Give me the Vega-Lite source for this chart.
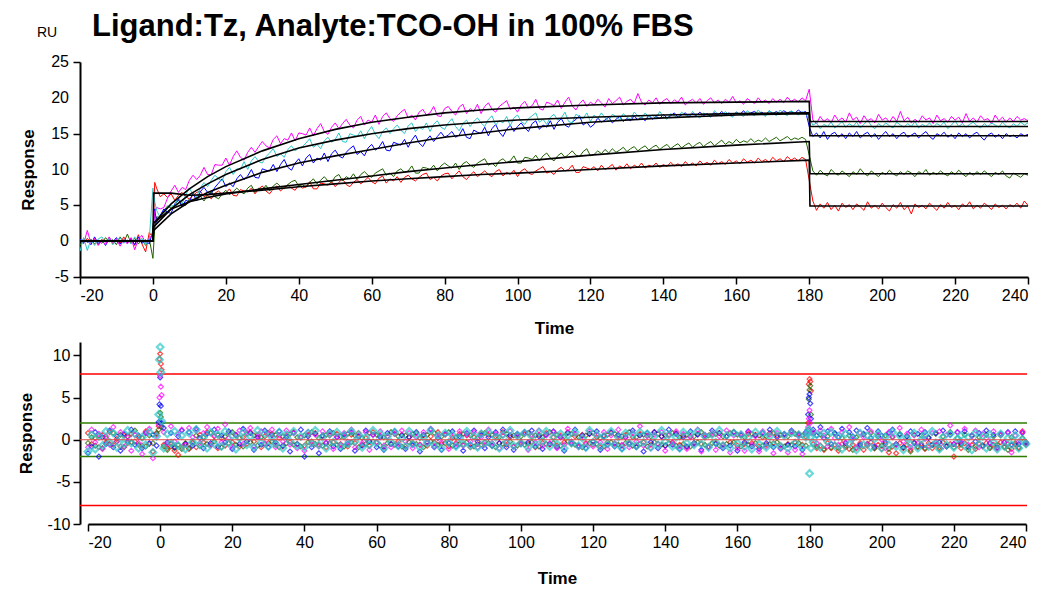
{
"$schema": "https://vega.github.io/schema/vega-lite/v6.json",
"background": "white",
"padding": {"left": 17, "top": 11, "right": 5, "bottom": 2},
"spacing": 3,
"columns": 1,
"align": "none",
"config": {"view": {"stroke": null}, "font": "Liberation Sans",
 "axis": {"grid": false, "labelOverlap": false, "domainColor": "black", "domainWidth": 2, "tickColor": "black", "tickWidth": 1.5, "labelColor": "black", "labelFont": "Liberation Sans", "labelFontSize": 16, "titleFont": "Liberation Sans", "titleFontSize": 17, "titleFontWeight": "bold", "titleColor": "black", "labelPadding": 3}},
"datasets": {
"sg": [
{"t":-20,"m":0.2,"c":-1.4,"b":0.3,"g":-0.6,"r":0.1},
{"t":-19,"m":-0.4,"c":0.5,"b":-0.2,"g":0.4,"r":-0.3},
{"t":-18,"m":1.5,"c":-1.3,"b":0.1,"g":-0.2,"r":0.4},
{"t":-17,"m":-0.3,"c":0.2,"b":-0.5,"g":0.3,"r":-0.2},
{"t":-16,"m":0.4,"c":-0.6,"b":0.6,"g":-0.4,"r":0.3},
{"t":-15,"m":-0.6,"c":0.3,"b":-0.3,"g":0.1,"r":-0.5},
{"t":-14,"m":0.1,"c":0.6,"b":0.2,"g":-0.3,"r":0.2},
{"t":-13,"m":-0.5,"c":-0.2,"b":-0.6,"g":0.5,"r":-0.1},
{"t":-12,"m":0.6,"c":0.4,"b":0.3,"g":-0.1,"r":0.5},
{"t":-11,"m":-0.2,"c":-0.5,"b":-0.1,"g":0.2,"r":-0.4},
{"t":-10,"m":0.3,"c":0.1,"b":0.5,"g":-0.5,"r":0.2},
{"t":-9,"m":-0.7,"c":0.5,"b":-0.4,"g":0.6,"r":-0.3},
{"t":-8,"m":0.2,"c":-0.3,"b":0.2,"g":-0.2,"r":0.6},
{"t":-7,"m":-0.4,"c":0.2,"b":-0.2,"g":1.0,"r":-0.2},
{"t":-6,"m":0.5,"c":-0.4,"b":0.4,"g":-0.3,"r":0.3},
{"t":-5,"m":-1.2,"c":0.6,"b":-0.5,"g":0.4,"r":-0.6},
{"t":-4,"m":0.3,"c":-0.1,"b":0.6,"g":-0.4,"r":0.9},
{"t":-3,"m":0.8,"c":0.4,"b":-0.3,"g":0.2,"r":-0.4},
{"t":-2,"m":-0.3,"c":-0.5,"b":0.2,"g":-0.6,"r":-1.5},
{"t":-1,"m":0.4,"c":0.3,"b":-0.4,"g":0.3,"r":1.2},
{"t":0,"m":1.0,"c":7.4,"b":1.5,"g":-2.4,"r":0.5},
{"t":0.5,"m":4.2,"c":5.5,"b":4.5,"g":1.8,"r":8.2},
{"t":1,"m":4.7,"c":4.3,"b":2.6,"g":3.4,"r":7.4},
{"t":2,"m":4.5,"c":3.3,"b":3.6,"g":3.3,"r":6.2},
{"t":3,"m":4.7,"c":3.4,"b":4.5,"g":4.3,"r":6.6},
{"t":4,"m":6.0,"c":4.9,"b":4.0,"g":4.9,"r":6.1},
{"t":5,"m":7.0,"c":4.9,"b":3.9,"g":4.6,"r":6.6},
{"t":6,"m":7.8,"c":5.0,"b":5.2,"g":5.0,"r":5.7},
{"t":7,"m":6.8,"c":6.1,"b":5.8,"g":5.8,"r":6.4},
{"t":8,"m":7.5,"c":5.2,"b":4.8,"g":4.9,"r":6.8},
{"t":9,"m":7.2,"c":6.5,"b":5.7,"g":5.0,"r":6.2},
{"t":10,"m":8.5,"c":7.4,"b":5.5,"g":5.9,"r":5.9},
{"t":11,"m":9.2,"c":6.5,"b":6.7,"g":5.8,"r":6.4},
{"t":12,"m":8.6,"c":6.2,"b":5.6,"g":5.7,"r":6.8},
{"t":13,"m":9.2,"c":7.4,"b":6.9,"g":6.3,"r":7.0},
{"t":14,"m":10.3,"c":8.2,"b":7.5,"g":5.6,"r":6.2},
{"t":15,"m":9.3,"c":7.6,"b":6.8,"g":6.4,"r":6.4},
{"t":16,"m":9.3,"c":8.5,"b":6.6,"g":6.9,"r":5.9},
{"t":17,"m":10.7,"c":9.2,"b":7.5,"g":6.2,"r":6.7},
{"t":18,"m":10.6,"c":8.7,"b":8.1,"g":5.9,"r":7.0},
{"t":19,"m":10.6,"c":8.4,"b":8.7,"g":6.6,"r":6.5},
{"t":20,"m":11.6,"c":9.7,"b":7.6,"g":7.1,"r":6.7},
{"t":21,"m":10.6,"c":10.3,"b":8.1,"g":6.5,"r":7.3},
{"t":22,"m":11.8,"c":9.3,"b":7.6,"g":6.9,"r":6.4},
{"t":23,"m":12.6,"c":10.1,"b":8.7,"g":7.4,"r":6.3},
{"t":24,"m":11.7,"c":10.0,"b":9.3,"g":6.9,"r":7.2},
{"t":25,"m":11.3,"c":11.1,"b":8.6,"g":6.6,"r":7.0},
{"t":26,"m":12.4,"c":10.0,"b":9.1,"g":7.4,"r":6.9},
{"t":27,"m":13.1,"c":11.2,"b":10.0,"g":7.8,"r":7.4},
{"t":28,"m":12.4,"c":11.8,"b":8.9,"g":6.8,"r":6.6},
{"t":29,"m":13.2,"c":11.1,"b":8.8,"g":7.4,"r":7.3},
{"t":30,"m":13.9,"c":10.9,"b":10.1,"g":7.1,"r":7.7},
{"t":31,"m":13.3,"c":11.8,"b":9.9,"g":7.8,"r":7.0},
{"t":32,"m":13.0,"c":12.3,"b":9.8,"g":7.0,"r":6.6},
{"t":33,"m":14.2,"c":12.9,"b":10.7,"g":7.7,"r":7.3},
{"t":34,"m":14.7,"c":11.8,"b":9.7,"g":8.1,"r":7.7},
{"t":35,"m":13.6,"c":12.2,"b":10.7,"g":7.6,"r":7.0},
{"t":36,"m":14.3,"c":11.7,"b":11.4,"g":7.3,"r":7.5},
{"t":37,"m":14.1,"c":12.8,"b":10.3,"g":7.9,"r":7.9},
{"t":38,"m":15.1,"c":13.3,"b":9.9,"g":8.3,"r":7.4},
{"t":39,"m":14.0,"c":12.6,"b":10.9,"g":8.5,"r":7.1},
{"t":40,"m":15.1,"c":13.0,"b":11.5,"g":7.7,"r":7.9},
{"t":41,"m":15.0,"c":13.2,"b":10.5,"g":7.9,"r":7.4},
{"t":42,"m":14.8,"c":13.7,"b":11.6,"g":7.5,"r":7.6},
{"t":43,"m":15.8,"c":14.3,"b":12.1,"g":8.2,"r":8.3},
{"t":44,"m":14.7,"c":13.1,"b":10.9,"g":8.7,"r":7.3},
{"t":45,"m":15.7,"c":13.5,"b":11.6,"g":8.0,"r":7.3},
{"t":46,"m":16.4,"c":12.9,"b":11.3,"g":8.5,"r":8.1},
{"t":47,"m":15.3,"c":14.0,"b":12.3,"g":9.0,"r":8.0},
{"t":48,"m":14.9,"c":14.5,"b":11.1,"g":8.4,"r":7.8},
{"t":49,"m":15.9,"c":13.8,"b":12.2,"g":8.2,"r":8.3},
{"t":50,"m":16.5,"c":14.2,"b":12.7,"g":9.0,"r":7.6},
{"t":51,"m":15.7,"c":15.1,"b":11.9,"g":9.3,"r":8.2},
{"t":52,"m":16.4,"c":13.9,"b":11.6,"g":8.4,"r":8.7},
{"t":53,"m":17.0,"c":13.8,"b":12.4,"g":9.0,"r":7.9},
{"t":54,"m":16.2,"c":15.0,"b":12.9,"g":8.7,"r":7.6},
{"t":55,"m":15.8,"c":14.8,"b":13.3,"g":9.4,"r":8.2},
{"t":56,"m":16.9,"c":14.6,"b":12.1,"g":8.6,"r":8.6},
{"t":57,"m":17.4,"c":15.4,"b":12.5,"g":9.3,"r":8.0},
{"t":58,"m":16.2,"c":14.3,"b":11.9,"g":9.7,"r":8.4},
{"t":59,"m":16.9,"c":15.3,"b":13.0,"g":9.2,"r":8.9},
{"t":60,"m":16.6,"c":16.0,"b":13.5,"g":8.9,"r":8.3},
{"t":61,"m":17.6,"c":14.9,"b":12.7,"g":9.5,"r":8.0},
{"t":62,"m":16.3,"c":14.3,"b":13.1,"g":9.8,"r":8.8},
{"t":63,"m":17.4,"c":15.3,"b":13.9,"g":10.1,"r":9.1},
{"t":64,"m":17.9,"c":15.8,"b":12.7,"g":9.2,"r":8.1},
{"t":65,"m":17.1,"c":15.0,"b":12.6,"g":9.5,"r":8.7},
{"t":66,"m":16.7,"c":15.7,"b":13.8,"g":9.0,"r":8.4},
{"t":67,"m":17.5,"c":16.2,"b":13.6,"g":9.8,"r":9.0},
{"t":68,"m":18.0,"c":15.5,"b":13.4,"g":10.1,"r":8.2},
{"t":69,"m":18.4,"c":15.0,"b":14.2,"g":9.6,"r":8.9},
{"t":70,"m":17.2,"c":16.1,"b":13.1,"g":9.8,"r":9.2},
{"t":71,"m":17.6,"c":16.5,"b":14.1,"g":10.5,"r":8.7},
{"t":72,"m":16.9,"c":15.3,"b":14.8,"g":9.5,"r":8.4},
{"t":73,"m":18.0,"c":15.9,"b":13.7,"g":9.5,"r":8.9},
{"t":74,"m":18.4,"c":15.6,"b":13.2,"g":10.3,"r":9.3},
{"t":75,"m":17.6,"c":16.5,"b":14.1,"g":10.2,"r":9.5},
{"t":76,"m":17.9,"c":15.3,"b":14.7,"g":10.0,"r":8.6},
{"t":77,"m":18.8,"c":16.3,"b":13.9,"g":10.6,"r":8.9},
{"t":78,"m":17.5,"c":16.8,"b":14.6,"g":9.8,"r":8.4},
{"t":79,"m":17.4,"c":15.9,"b":15.2,"g":10.5,"r":9.1},
{"t":80,"m":18.5,"c":15.6,"b":14.5,"g":10.9,"r":9.4},
{"t":81,"m":18.8,"c":16.5,"b":14.8,"g":10.5,"r":9.5},
{"t":82,"m":18.1,"c":17.1,"b":15.3,"g":10.2,"r":8.7},
{"t":83,"m":17.6,"c":16.0,"b":14.5,"g":10.9,"r":9.3},
{"t":84,"m":18.7,"c":15.4,"b":14.8,"g":10.0,"r":9.8},
{"t":85,"m":19.1,"c":16.4,"b":15.7,"g":10.8,"r":9.0},
{"t":86,"m":17.8,"c":16.9,"b":14.5,"g":11.1,"r":8.6},
{"t":87,"m":18.5,"c":16.0,"b":14.3,"g":10.6,"r":9.2},
{"t":88,"m":18.1,"c":16.7,"b":15.5,"g":10.3,"r":9.7},
{"t":89,"m":19.1,"c":17.2,"b":15.2,"g":10.9,"r":9.0},
{"t":90,"m":17.8,"c":16.5,"b":15.0,"g":11.2,"r":9.4},
{"t":91,"m":18.8,"c":16.0,"b":15.9,"g":11.5,"r":9.8},
{"t":92,"m":19.3,"c":17.0,"b":14.7,"g":10.6,"r":9.3},
{"t":93,"m":18.4,"c":17.5,"b":15.7,"g":10.9,"r":9.0},
{"t":94,"m":18.0,"c":16.2,"b":16.3,"g":10.4,"r":9.7},
{"t":95,"m":18.8,"c":16.8,"b":15.2,"g":11.2,"r":10.0},
{"t":96,"m":19.2,"c":16.5,"b":14.6,"g":11.5,"r":9.1},
{"t":97,"m":19.6,"c":17.4,"b":15.6,"g":11.0,"r":9.6},
{"t":98,"m":18.4,"c":16.1,"b":16.2,"g":11.2,"r":9.3},
{"t":99,"m":18.7,"c":17.2,"b":15.3,"g":11.9,"r":9.9},
{"t":100,"m":18.0,"c":17.6,"b":16.0,"g":10.9,"r":9.0},
{"t":101,"m":19.0,"c":16.7,"b":16.5,"g":10.9,"r":9.8},
{"t":102,"m":19.5,"c":16.3,"b":15.8,"g":11.7,"r":10.1},
{"t":103,"m":18.6,"c":17.1,"b":15.3,"g":11.6,"r":9.5},
{"t":104,"m":18.9,"c":17.5,"b":16.4,"g":11.4,"r":9.3},
{"t":105,"m":19.8,"c":17.9,"b":16.8,"g":12.0,"r":9.8},
{"t":106,"m":18.5,"c":16.6,"b":15.6,"g":11.2,"r":10.1},
{"t":107,"m":18.3,"c":17.0,"b":16.2,"g":11.9,"r":10.4},
{"t":108,"m":19.4,"c":16.3,"b":15.9,"g":12.3,"r":9.5},
{"t":109,"m":19.2,"c":17.3,"b":16.8,"g":11.6,"r":9.7},
{"t":110,"m":18.9,"c":17.7,"b":15.6,"g":11.2,"r":9.3},
{"t":111,"m":19.7,"c":16.9,"b":16.6,"g":11.9,"r":10.0},
{"t":112,"m":18.5,"c":17.2,"b":17.1,"g":12.3,"r":10.3},
{"t":113,"m":19.4,"c":18.0,"b":16.2,"g":11.7,"r":9.8},
{"t":114,"m":20.1,"c":16.7,"b":15.9,"g":12.1,"r":10.0},
{"t":115,"m":18.9,"c":16.5,"b":16.6,"g":12.6,"r":10.6},
{"t":116,"m":18.3,"c":17.7,"b":17.0,"g":12.0,"r":9.6},
{"t":117,"m":19.2,"c":17.4,"b":17.5,"g":11.8,"r":9.6},
{"t":118,"m":19.7,"c":17.1,"b":16.2,"g":12.5,"r":10.4},
{"t":119,"m":18.8,"c":17.9,"b":16.6,"g":12.9,"r":10.2},
{"t":120,"m":19.4,"c":16.7,"b":15.9,"g":11.9,"r":10.0},
{"t":121,"m":19.0,"c":17.6,"b":16.3,"g":12.1,"r":10.4},
{"t":122,"m":19.8,"c":17.1,"b":17.2,"g":12.6,"r":9.8},
{"t":123,"m":19.3,"c":17.9,"b":16.6,"g":12.2,"r":10.6},
{"t":124,"m":18.7,"c":17.2,"b":16.9,"g":12.8,"r":10.0},
{"t":125,"m":19.9,"c":16.8,"b":17.3,"g":12.3,"r":10.3},
{"t":126,"m":19.2,"c":17.7,"b":16.5,"g":12.9,"r":10.7},
{"t":127,"m":19.6,"c":17.4,"b":17.0,"g":12.4,"r":9.9},
{"t":128,"m":20.1,"c":16.9,"b":17.4,"g":12.7,"r":10.5},
{"t":129,"m":19.0,"c":17.8,"b":16.7,"g":13.1,"r":10.2},
{"t":130,"m":19.5,"c":17.3,"b":17.1,"g":12.5,"r":10.8},
{"t":131,"m":19.8,"c":17.0,"b":16.8,"g":12.9,"r":10.1},
{"t":132,"m":19.2,"c":18.0,"b":17.5,"g":13.2,"r":10.6},
{"t":133,"m":20.6,"c":17.5,"b":16.9,"g":12.6,"r":10.3},
{"t":134,"m":19.4,"c":17.1,"b":17.3,"g":13.0,"r":10.9},
{"t":135,"m":19.0,"c":17.9,"b":16.8,"g":13.3,"r":10.2},
{"t":136,"m":19.7,"c":17.3,"b":17.6,"g":12.7,"r":10.6},
{"t":137,"m":19.3,"c":17.6,"b":17.0,"g":13.1,"r":10.4},
{"t":138,"m":20.0,"c":17.1,"b":17.4,"g":13.4,"r":10.9},
{"t":139,"m":19.1,"c":18.1,"b":17.1,"g":12.8,"r":10.3},
{"t":140,"m":19.6,"c":17.4,"b":17.7,"g":13.2,"r":10.7},
{"t":141,"m":19.9,"c":17.0,"b":17.2,"g":13.5,"r":10.4},
{"t":142,"m":19.2,"c":17.8,"b":17.5,"g":12.9,"r":11.0},
{"t":143,"m":19.7,"c":17.5,"b":17.9,"g":13.3,"r":10.5},
{"t":144,"m":19.4,"c":17.2,"b":17.3,"g":13.6,"r":10.8},
{"t":145,"m":20.1,"c":18.0,"b":17.6,"g":13.0,"r":10.4},
{"t":146,"m":19.0,"c":17.6,"b":17.9,"g":13.4,"r":11.1},
{"t":147,"m":19.5,"c":17.3,"b":17.4,"g":13.7,"r":10.6},
{"t":148,"m":19.8,"c":18.1,"b":17.8,"g":13.1,"r":10.9},
{"t":149,"m":19.3,"c":17.5,"b":17.5,"g":13.5,"r":10.5},
{"t":150,"m":19.9,"c":17.2,"b":18.0,"g":13.8,"r":11.2},
{"t":151,"m":19.1,"c":17.9,"b":17.5,"g":13.2,"r":10.7},
{"t":152,"m":19.6,"c":17.6,"b":17.8,"g":13.6,"r":11.0},
{"t":153,"m":20.0,"c":17.3,"b":17.4,"g":13.9,"r":10.6},
{"t":154,"m":19.3,"c":18.2,"b":17.9,"g":13.3,"r":11.3},
{"t":155,"m":19.7,"c":17.7,"b":17.6,"g":13.7,"r":10.8},
{"t":156,"m":19.2,"c":17.4,"b":18.1,"g":14.1,"r":11.1},
{"t":157,"m":19.8,"c":18.1,"b":17.6,"g":13.5,"r":10.7},
{"t":158,"m":19.4,"c":17.6,"b":17.9,"g":13.9,"r":11.4},
{"t":159,"m":20.2,"c":17.3,"b":17.5,"g":13.6,"r":10.9},
{"t":160,"m":19.3,"c":18.0,"b":18.0,"g":14.2,"r":11.2},
{"t":161,"m":19.6,"c":17.7,"b":17.7,"g":13.7,"r":10.8},
{"t":162,"m":19.1,"c":17.4,"b":18.2,"g":14.0,"r":11.5},
{"t":163,"m":19.9,"c":18.2,"b":17.6,"g":13.8,"r":11.0},
{"t":164,"m":19.5,"c":17.8,"b":17.9,"g":14.3,"r":11.3},
{"t":165,"m":19.2,"c":17.5,"b":18.1,"g":13.8,"r":10.9},
{"t":166,"m":20.0,"c":18.3,"b":17.7,"g":14.1,"r":11.6},
{"t":167,"m":19.4,"c":17.8,"b":18.0,"g":13.9,"r":11.1},
{"t":168,"m":19.7,"c":17.4,"b":17.6,"g":14.4,"r":11.4},
{"t":169,"m":19.2,"c":18.2,"b":18.2,"g":13.9,"r":11.0},
{"t":170,"m":19.9,"c":17.9,"b":17.8,"g":14.2,"r":11.7},
{"t":171,"m":19.4,"c":17.5,"b":18.1,"g":14.5,"r":11.2},
{"t":172,"m":19.8,"c":18.3,"b":17.7,"g":14.0,"r":11.5},
{"t":173,"m":19.3,"c":17.8,"b":18.2,"g":14.3,"r":11.1},
{"t":174,"m":20.1,"c":17.5,"b":17.9,"g":14.6,"r":11.8},
{"t":175,"m":19.5,"c":18.2,"b":18.1,"g":14.1,"r":11.3},
{"t":176,"m":19.8,"c":17.9,"b":17.8,"g":14.4,"r":11.6},
{"t":177,"m":19.4,"c":17.6,"b":18.3,"g":14.2,"r":11.2},
{"t":178,"m":20.0,"c":18.1,"b":17.9,"g":14.5,"r":11.7},
{"t":179,"m":19.6,"c":17.7,"b":18.1,"g":14.2,"r":11.4},
{"t":180,"m":21.2,"c":17.2,"b":16.0,"g":12.0,"r":8.5},
{"t":181,"m":16.9,"c":16.2,"b":14.6,"g":9.8,"r":5.6},
{"t":182,"m":16.4,"c":16.5,"b":15.1,"g":9.2,"r":4.3},
{"t":183,"m":17.4,"c":15.7,"b":14.4,"g":9.9,"r":5.2},
{"t":184,"m":16.7,"c":16.3,"b":15.3,"g":9.4,"r":4.6},
{"t":185,"m":17.1,"c":16.0,"b":14.2,"g":9.1,"r":5.4},
{"t":186,"m":16.5,"c":16.6,"b":14.9,"g":10.0,"r":4.4},
{"t":187,"m":17.6,"c":15.8,"b":15.2,"g":9.5,"r":5.0},
{"t":188,"m":16.8,"c":16.2,"b":14.5,"g":9.2,"r":4.2},
{"t":189,"m":17.2,"c":16.7,"b":15.0,"g":9.8,"r":5.3},
{"t":190,"m":16.6,"c":15.9,"b":14.3,"g":9.4,"r":4.7},
{"t":191,"m":17.9,"c":16.4,"b":15.1,"g":9.0,"r":5.1},
{"t":192,"m":16.9,"c":16.0,"b":14.6,"g":9.7,"r":4.4},
{"t":193,"m":17.3,"c":16.6,"b":15.3,"g":9.3,"r":5.2},
{"t":194,"m":16.4,"c":15.8,"b":14.4,"g":10.1,"r":4.8},
{"t":195,"m":17.5,"c":16.3,"b":14.9,"g":9.5,"r":4.3},
{"t":196,"m":16.8,"c":16.9,"b":15.2,"g":9.1,"r":5.5},
{"t":197,"m":17.1,"c":16.1,"b":14.5,"g":9.8,"r":4.6},
{"t":198,"m":16.5,"c":15.7,"b":15.0,"g":9.4,"r":5.0},
{"t":199,"m":17.7,"c":16.4,"b":14.2,"g":9.0,"r":4.5},
{"t":200,"m":16.9,"c":16.0,"b":14.8,"g":9.6,"r":5.3},
{"t":201,"m":17.2,"c":16.5,"b":15.3,"g":9.3,"r":4.7},
{"t":202,"m":16.6,"c":16.1,"b":14.6,"g":9.9,"r":4.2},
{"t":203,"m":17.4,"c":15.8,"b":15.0,"g":9.4,"r":5.1},
{"t":204,"m":16.7,"c":16.6,"b":14.3,"g":9.1,"r":4.6},
{"t":205,"m":18.1,"c":16.2,"b":14.9,"g":9.7,"r":5.4},
{"t":206,"m":16.8,"c":15.9,"b":15.2,"g":9.3,"r":4.4},
{"t":207,"m":17.3,"c":16.4,"b":14.5,"g":9.8,"r":4.9},
{"t":208,"m":16.5,"c":16.0,"b":14.8,"g":9.5,"r":3.8},
{"t":209,"m":17.0,"c":16.7,"b":15.1,"g":9.0,"r":5.2},
{"t":210,"m":16.6,"c":15.8,"b":14.4,"g":9.7,"r":4.7},
{"t":211,"m":17.5,"c":16.3,"b":14.9,"g":9.4,"r":5.0},
{"t":212,"m":16.9,"c":16.0,"b":15.3,"g":10.0,"r":4.5},
{"t":213,"m":17.2,"c":16.5,"b":14.6,"g":9.2,"r":5.3},
{"t":214,"m":16.4,"c":15.9,"b":14.2,"g":9.6,"r":4.8},
{"t":215,"m":17.6,"c":16.4,"b":15.0,"g":9.3,"r":4.3},
{"t":216,"m":16.8,"c":16.1,"b":14.7,"g":9.8,"r":5.1},
{"t":217,"m":17.1,"c":16.6,"b":15.2,"g":9.4,"r":4.6},
{"t":218,"m":16.6,"c":15.7,"b":14.5,"g":9.1,"r":5.4},
{"t":219,"m":17.4,"c":16.2,"b":14.9,"g":9.7,"r":4.7},
{"t":220,"m":16.9,"c":16.8,"b":14.3,"g":9.3,"r":5.0},
{"t":221,"m":17.3,"c":16.0,"b":15.1,"g":9.9,"r":4.4},
{"t":222,"m":16.5,"c":16.4,"b":14.6,"g":9.4,"r":5.2},
{"t":223,"m":17.8,"c":15.9,"b":15.0,"g":9.0,"r":4.8},
{"t":224,"m":16.7,"c":16.3,"b":14.4,"g":9.6,"r":5.5},
{"t":225,"m":17.2,"c":16.6,"b":14.9,"g":9.2,"r":4.5},
{"t":226,"m":16.6,"c":16.1,"b":15.2,"g":9.7,"r":5.0},
{"t":227,"m":17.5,"c":15.8,"b":14.6,"g":9.3,"r":4.6},
{"t":228,"m":16.9,"c":16.4,"b":14.1,"g":9.8,"r":5.3},
{"t":229,"m":17.1,"c":16.0,"b":14.8,"g":9.4,"r":4.9},
{"t":230,"m":16.4,"c":16.5,"b":15.1,"g":9.0,"r":4.4},
{"t":231,"m":17.6,"c":16.2,"b":14.5,"g":9.6,"r":5.2},
{"t":232,"m":16.8,"c":15.9,"b":14.9,"g":9.3,"r":4.7},
{"t":233,"m":17.3,"c":16.6,"b":14.3,"g":9.8,"r":5.0},
{"t":234,"m":16.6,"c":16.1,"b":15.0,"g":9.1,"r":4.5},
{"t":235,"m":17.2,"c":15.8,"b":14.6,"g":8.8,"r":5.1},
{"t":236,"m":16.7,"c":16.4,"b":14.8,"g":9.5,"r":4.8},
{"t":237,"m":17.4,"c":16.0,"b":14.4,"g":9.2,"r":5.3},
{"t":238,"m":16.9,"c":16.6,"b":15.0,"g":8.9,"r":4.6},
{"t":239,"m":17.1,"c":16.2,"b":14.7,"g":9.4,"r":5.6},
{"t":240,"m":16.8,"c":16.5,"b":14.9,"g":9.2,"r":5.0}
],
"fit": [
{"t":-20,"m":0,"c":0,"b":0,"g":0,"r":0},
{"t":0,"m":0,"c":0,"b":0,"g":0,"r":0},
{"t":0.2,"m":2.5,"c":2.0,"b":1.5,"g":2.5,"r":6.7},
{"t":5,"m":5.2,"c":4.5,"b":3.8,"g":4.5,"r":6.7},
{"t":10,"m":7.3,"c":6.5,"b":5.5,"g":5.5,"r":6.4},
{"t":15,"m":9.0,"c":8.0,"b":6.8,"g":6.1,"r":6.5},
{"t":20,"m":10.4,"c":9.3,"b":7.8,"g":6.6,"r":6.7},
{"t":30,"m":12.6,"c":11.4,"b":9.6,"g":7.3,"r":7.1},
{"t":40,"m":14.3,"c":13.0,"b":10.9,"g":7.9,"r":7.6},
{"t":50,"m":15.6,"c":14.1,"b":11.9,"g":8.5,"r":8.0},
{"t":60,"m":16.6,"c":15.0,"b":12.8,"g":9.1,"r":8.4},
{"t":70,"m":17.3,"c":15.7,"b":13.7,"g":9.7,"r":8.7},
{"t":80,"m":17.9,"c":16.2,"b":14.5,"g":10.2,"r":9.0},
{"t":90,"m":18.3,"c":16.6,"b":15.1,"g":10.7,"r":9.3},
{"t":100,"m":18.6,"c":16.9,"b":15.7,"g":11.1,"r":9.5},
{"t":120,"m":19.0,"c":17.3,"b":16.6,"g":12.0,"r":10.0},
{"t":140,"m":19.3,"c":17.6,"b":17.2,"g":12.8,"r":10.5},
{"t":160,"m":19.4,"c":17.8,"b":17.6,"g":13.4,"r":10.9},
{"t":180,"m":19.5,"c":17.9,"b":17.8,"g":13.9,"r":11.3},
{"t":180.2,"m":16.7,"c":16.0,"b":14.7,"g":9.4,"r":4.9},
{"t":240,"m":16.7,"c":16.0,"b":14.7,"g":9.4,"r":4.9}
],
"res": [
{"t":-20,"m":-0.9,"c":-1.4,"b":-1.6,"g":-0.4,"r":0.8},
{"t":-19,"m":1.2,"c":0.6,"b":-0.8,"g":0.3,"r":-0.5},
{"t":-18,"m":-0.3,"c":-1.1,"b":0.9,"g":-0.7,"r":0.2},
{"t":-17,"m":0.7,"c":0.4,"b":-2.0,"g":0.5,"r":-0.9},
{"t":-16,"m":-1.1,"c":-0.7,"b":0.3,"g":-1.0,"r":0.6},
{"t":-15,"m":0.4,"c":1.0,"b":-0.5,"g":0.2,"r":-0.3},
{"t":-14,"m":-0.6,"c":-0.3,"b":1.1,"g":-0.5,"r":0.9},
{"t":-13,"m":1.5,"c":0.8,"b":-0.9,"g":0.8,"r":-0.6},
{"t":-12,"m":-0.2,"c":-0.9,"b":0.4,"g":-0.2,"r":0.1},
{"t":-11,"m":0.9,"c":0.2,"b":-1.3,"g":0.6,"r":-0.8},
{"t":-10,"m":-0.8,"c":-0.5,"b":0.7,"g":-0.9,"r":0.5},
{"t":-9,"m":0.3,"c":1.1,"b":-0.2,"g":0.4,"r":-0.4},
{"t":-8,"m":-1.3,"c":-0.4,"b":1.2,"g":-0.3,"r":0.7},
{"t":-7,"m":0.6,"c":0.7,"b":-0.6,"g":1.1,"r":-0.2},
{"t":-6,"m":-0.4,"c":-1.0,"b":0.5,"g":-0.6,"r":0.3},
{"t":-5,"m":-1.7,"c":0.3,"b":-1.0,"g":0.2,"r":-0.7},
{"t":-4,"m":0.8,"c":-0.6,"b":0.8,"g":-0.8,"r":1.0},
{"t":-3,"m":1.3,"c":0.9,"b":-0.4,"g":0.5,"r":-0.5},
{"t":-2,"m":-2.2,"c":-1.5,"b":0.6,"g":-0.4,"r":-1.4},
{"t":-1,"m":0.5,"c":0.4,"b":-0.7,"g":0.7,"r":0.8},
{"t":-0.4,"m":1.8,"c":3.0,"b":2.1,"g":1.2,"r":1.6},
{"t":-0.2,"m":5.0,"c":9.5,"b":4.2,"g":2.0,"r":9.6},
{"t":0,"m":7.6,"c":11.0,"b":7.4,"g":3.2,"r":10.2},
{"t":0.2,"m":6.3,"c":8.0,"b":4.0,"g":2.7,"r":9.0},
{"t":0.4,"m":5.3,"c":2.2,"b":2.0,"g":1.5,"r":8.3},
{"t":1,"m":0.9,"c":-1.0,"b":1.4,"g":-0.8,"r":-0.6},
{"t":2,"m":-0.5,"c":0.7,"b":-0.3,"g":-1.2,"r":-1.0},
{"t":3,"m":1.6,"c":-0.4,"b":0.8,"g":-0.5,"r":-0.8},
{"t":4,"m":-0.2,"c":1.0,"b":-0.9,"g":-1.0,"r":-1.3},
{"t":5,"m":0.7,"c":-0.7,"b":0.4,"g":-0.6,"r":-1.8},
{"t":6,"m":1.2,"c":0.5,"b":1.1,"g":-1.1,"r":-0.9},
{"t":7,"m":-0.6,"c":-1.1,"b":-0.5,"g":-0.4,"r":-0.5},
{"t":8,"m":1.4,"c":0.8,"b":0.9,"g":-1.0,"r":-1.1},
{"t":9,"m":0.3,"c":-0.3,"b":-0.7,"g":-0.3,"r":-0.4},
{"t":10,"m":1.1,"c":1.2,"b":1.3,"g":0.5,"r":-0.9},
{"t":11,"m":-0.4,"c":-0.6,"b":0.2,"g":-0.7,"r":0.6},
{"t":12,"m":0.8,"c":0.3,"b":-1.0,"g":0.3,"r":-0.3},
{"t":13,"m":1.5,"c":-1.0,"b":0.7,"g":-0.5,"r":0.9},
{"t":14,"m":-0.7,"c":0.9,"b":-0.4,"g":0.8,"r":-0.6},
{"t":15,"m":0.5,"c":-0.5,"b":1.2,"g":-0.2,"r":0.4},
{"t":16,"m":1.3,"c":0.6,"b":-0.8,"g":0.6,"r":-1.0},
{"t":17,"m":-0.3,"c":-0.8,"b":0.5,"g":-0.9,"r":0.2},
{"t":18,"m":1.8,"c":1.0,"b":-0.3,"g":0.4,"r":-0.7},
{"t":19,"m":0.2,"c":-0.4,"b":1.0,"g":-0.4,"r":0.8},
{"t":20,"m":-0.9,"c":0.5,"b":-1.1,"g":0.9,"r":-0.3},
{"t":21,"m":0.6,"c":-1.1,"b":0.6,"g":-0.6,"r":0.5},
{"t":22,"m":1.1,"c":0.2,"b":-0.5,"g":0.2,"r":-0.8},
{"t":23,"m":-0.5,"c":0.9,"b":1.3,"g":-0.8,"r":0.3},
{"t":24,"m":0.9,"c":-0.6,"b":-0.2,"g":0.7,"r":-0.5},
{"t":25,"m":1.4,"c":0.4,"b":0.8,"g":-0.3,"r":0.9},
{"t":26,"m":-0.8,"c":-0.9,"b":-1.2,"g":0.5,"r":-0.2},
{"t":27,"m":0.4,"c":1.1,"b":0.3,"g":-0.7,"r":0.6},
{"t":28,"m":1.0,"c":-0.3,"b":-0.6,"g":0.3,"r":-0.9},
{"t":29,"m":-0.4,"c":0.7,"b":1.1,"g":-0.5,"r":0.4},
{"t":30,"m":0.7,"c":-0.8,"b":-0.9,"g":0.8,"r":-0.4},
{"t":31,"m":1.2,"c":0.3,"b":0.5,"g":-0.2,"r":0.7},
{"t":32,"m":-0.9,"c":-0.5,"b":-0.3,"g":0.6,"r":-0.6},
{"t":33,"m":0.5,"c":0.9,"b":1.0,"g":-0.9,"r":0.2},
{"t":34,"m":-0.2,"c":-1.0,"b":-0.7,"g":0.4,"r":-0.8},
{"t":35,"m":1.1,"c":0.6,"b":0.3,"g":-0.4,"r":0.5},
{"t":36,"m":-0.6,"c":-0.2,"b":-1.4,"g":0.7,"r":-0.3},
{"t":37,"m":0.8,"c":1.0,"b":0.8,"g":-0.6,"r":0.9},
{"t":38,"m":-1.0,"c":-0.7,"b":-0.5,"g":0.3,"r":-0.5},
{"t":39,"m":0.3,"c":0.4,"b":1.2,"g":-0.8,"r":0.3},
{"t":40,"m":-1.3,"c":-0.9,"b":-2.0,"g":0.5,"r":-0.7},
{"t":41,"m":0.9,"c":0.8,"b":0.4,"g":-0.3,"r":0.6},
{"t":42,"m":-0.5,"c":-0.4,"b":-0.9,"g":0.9,"r":-0.2},
{"t":43,"m":0.6,"c":1.1,"b":0.7,"g":-0.5,"r":0.8},
{"t":44,"m":-0.8,"c":-0.6,"b":-1.6,"g":0.2,"r":-0.6},
{"t":45,"m":1.0,"c":0.3,"b":0.5,"g":-0.7,"r":0.4},
{"t":46,"m":-0.3,"c":-1.0,"b":-0.4,"g":0.6,"r":-0.9},
{"t":47,"m":0.7,"c":0.7,"b":1.0,"g":-0.4,"r":0.5},
{"t":48,"m":-1.1,"c":-0.3,"b":-0.8,"g":0.8,"r":-0.3},
{"t":49,"m":0.4,"c":0.9,"b":0.3,"g":-0.6,"r":0.7},
{"t":50,"m":-0.6,"c":-0.8,"b":-1.1,"g":0.4,"r":-0.5},
{"t":51,"m":0.8,"c":0.5,"b":0.6,"g":-0.8,"r":0.3},
{"t":52,"m":-0.2,"c":-0.5,"b":-0.5,"g":0.7,"r":-0.8},
{"t":53,"m":1.2,"c":1.0,"b":0.9,"g":-0.3,"r":0.6},
{"t":54,"m":-0.9,"c":-0.2,"b":-1.3,"g":0.5,"r":-0.4},
{"t":55,"m":0.5,"c":0.6,"b":0.4,"g":-0.9,"r":0.8},
{"t":56,"m":-0.4,"c":-0.9,"b":-0.7,"g":0.2,"r":-0.6},
{"t":57,"m":0.9,"c":0.3,"b":1.1,"g":-0.5,"r":0.2},
{"t":58,"m":-1.2,"c":-0.6,"b":-0.2,"g":0.8,"r":-0.7},
{"t":59,"m":0.6,"c":1.1,"b":0.6,"g":-0.2,"r":0.9},
{"t":60,"m":-0.3,"c":-0.4,"b":-0.9,"g":0.6,"r":-0.3},
{"t":61,"m":1.0,"c":0.7,"b":0.3,"g":-0.7,"r":0.5},
{"t":62,"m":-0.7,"c":-1.0,"b":-1.2,"g":0.3,"r":-0.9},
{"t":63,"m":0.4,"c":0.4,"b":0.8,"g":-0.4,"r":0.4},
{"t":64,"m":-0.9,"c":-0.3,"b":-0.5,"g":0.9,"r":-0.5},
{"t":65,"m":0.7,"c":0.9,"b":1.0,"g":-0.6,"r":0.7},
{"t":66,"m":-0.5,"c":-0.7,"b":-0.8,"g":0.4,"r":-0.2},
{"t":67,"m":1.1,"c":0.2,"b":0.5,"g":-0.8,"r":0.6},
{"t":68,"m":-0.2,"c":-0.8,"b":-1.1,"g":0.5,"r":-0.8},
{"t":69,"m":0.8,"c":1.0,"b":0.3,"g":-0.3,"r":0.3},
{"t":70,"m":-1.0,"c":-0.5,"b":-0.6,"g":0.7,"r":-0.4},
{"t":71,"m":0.3,"c":0.6,"b":0.9,"g":-0.5,"r":0.8},
{"t":72,"m":-0.6,"c":-0.9,"b":-1.4,"g":0.2,"r":-0.6},
{"t":73,"m":0.9,"c":0.3,"b":0.6,"g":-0.9,"r":0.5},
{"t":74,"m":-0.4,"c":-0.4,"b":-0.3,"g":0.6,"r":-0.7},
{"t":75,"m":1.3,"c":1.1,"b":1.2,"g":-0.2,"r":0.4},
{"t":76,"m":-0.8,"c":-0.6,"b":-0.9,"g":0.8,"r":-0.3},
{"t":77,"m":0.5,"c":0.5,"b":0.2,"g":-0.6,"r":0.9},
{"t":78,"m":-0.3,"c":-1.0,"b":-1.2,"g":0.4,"r":-0.5},
{"t":79,"m":0.7,"c":0.8,"b":0.7,"g":-0.4,"r":0.6},
{"t":80,"m":-1.1,"c":-0.3,"b":-0.4,"g":0.9,"r":-0.8},
{"t":81,"m":0.4,"c":0.6,"b":1.0,"g":-0.7,"r":0.2},
{"t":82,"m":-0.5,"c":-0.8,"b":-0.8,"g":0.3,"r":-0.4},
{"t":83,"m":1.0,"c":0.2,"b":0.4,"g":-0.5,"r":0.7},
{"t":84,"m":-0.7,"c":-0.5,"b":-1.3,"g":0.7,"r":-0.6},
{"t":85,"m":0.6,"c":1.0,"b":0.8,"g":-0.3,"r":0.5},
{"t":86,"m":-0.2,"c":-0.7,"b":-0.6,"g":0.5,"r":-0.9},
{"t":87,"m":0.9,"c":0.4,"b":1.1,"g":-0.8,"r":0.3},
{"t":88,"m":-0.9,"c":-0.9,"b":-0.2,"g":0.2,"r":-0.5},
{"t":89,"m":0.3,"c":0.7,"b":0.6,"g":-0.6,"r":0.8},
{"t":90,"m":-0.6,"c":-0.4,"b":-1.0,"g":0.8,"r":-0.3},
{"t":91,"m":1.2,"c":0.9,"b":0.3,"g":-0.4,"r":0.6},
{"t":92,"m":-0.4,"c":-0.6,"b":-0.7,"g":0.6,"r":-0.7},
{"t":93,"m":0.7,"c":0.3,"b":0.9,"g":-0.9,"r":0.4},
{"t":94,"m":-1.0,"c":-1.0,"b":-0.4,"g":0.3,"r":-0.4},
{"t":95,"m":0.5,"c":0.6,"b":1.2,"g":-0.5,"r":0.9},
{"t":96,"m":-0.3,"c":-0.3,"b":-0.9,"g":0.7,"r":-0.6},
{"t":97,"m":1.0,"c":1.1,"b":0.5,"g":-0.2,"r":0.3},
{"t":98,"m":-0.8,"c":-0.7,"b":-1.2,"g":0.5,"r":-0.8},
{"t":99,"m":0.4,"c":0.5,"b":0.7,"g":-0.7,"r":0.5},
{"t":100,"m":-0.5,"c":-0.4,"b":-0.5,"g":0.4,"r":-0.3},
{"t":101,"m":0.8,"c":0.8,"b":0.9,"g":-0.6,"r":0.7},
{"t":102,"m":-1.2,"c":-0.9,"b":-0.3,"g":0.8,"r":-0.5},
{"t":103,"m":0.6,"c":0.4,"b":1.1,"g":-0.3,"r":0.4},
{"t":104,"m":-0.3,"c":-0.6,"b":-0.8,"g":0.5,"r":-0.9},
{"t":105,"m":1.1,"c":0.9,"b":0.4,"g":-0.8,"r":0.6},
{"t":106,"m":-0.7,"c":-0.2,"b":-1.1,"g":0.3,"r":-0.4},
{"t":107,"m":0.5,"c":1.0,"b":0.6,"g":-0.5,"r":0.8},
{"t":108,"m":-0.4,"c":-0.8,"b":-0.5,"g":0.9,"r":-0.6},
{"t":109,"m":0.9,"c":0.3,"b":1.0,"g":-0.4,"r":0.3},
{"t":110,"m":-1.0,"c":-0.5,"b":-0.9,"g":0.6,"r":-0.7},
{"t":111,"m":0.3,"c":0.7,"b":0.3,"g":-0.7,"r":0.5},
{"t":112,"m":-0.6,"c":-1.0,"b":-1.3,"g":0.4,"r":-0.3},
{"t":113,"m":1.3,"c":0.5,"b":0.8,"g":-0.2,"r":0.9},
{"t":114,"m":-0.2,"c":-0.4,"b":-0.4,"g":0.7,"r":-0.5},
{"t":115,"m":0.7,"c":0.9,"b":1.2,"g":-0.6,"r":0.4},
{"t":116,"m":-0.9,"c":-0.7,"b":-0.7,"g":0.3,"r":-0.8},
{"t":117,"m":0.4,"c":0.2,"b":0.5,"g":-0.9,"r":0.6},
{"t":118,"m":-0.5,"c":-0.9,"b":-1.0,"g":0.5,"r":-0.4},
{"t":119,"m":1.0,"c":1.1,"b":0.7,"g":-0.4,"r":0.7},
{"t":120,"m":-0.8,"c":-0.3,"b":-0.2,"g":0.8,"r":-0.6},
{"t":121,"m":0.6,"c":0.6,"b":1.0,"g":-0.5,"r":0.3},
{"t":122,"m":-0.3,"c":-0.8,"b":-1.2,"g":0.2,"r":-0.9},
{"t":123,"m":0.9,"c":0.4,"b":0.4,"g":-0.8,"r":0.5},
{"t":124,"m":-1.1,"c":-0.5,"b":-0.6,"g":0.6,"r":-0.3},
{"t":125,"m":0.5,"c":1.0,"b":0.9,"g":-0.3,"r":0.8},
{"t":126,"m":-0.4,"c":-0.6,"b":-0.8,"g":0.7,"r":-0.5},
{"t":127,"m":1.2,"c":0.3,"b":0.6,"g":-0.6,"r":0.4},
{"t":128,"m":-0.6,"c":-1.0,"b":-1.1,"g":0.4,"r":-0.7},
{"t":129,"m":0.3,"c":0.8,"b":0.3,"g":-0.4,"r":0.6},
{"t":130,"m":-0.9,"c":-0.4,"b":-0.5,"g":0.9,"r":-0.4},
{"t":131,"m":0.8,"c":0.6,"b":1.1,"g":-0.7,"r":0.3},
{"t":132,"m":-0.2,"c":-0.7,"b":-0.9,"g":0.3,"r":-0.8},
{"t":133,"m":1.6,"c":0.9,"b":0.5,"g":-0.5,"r":0.7},
{"t":134,"m":-0.7,"c":-0.3,"b":-1.4,"g":0.6,"r":-0.3},
{"t":135,"m":0.4,"c":0.7,"b":0.8,"g":-0.8,"r":0.5},
{"t":136,"m":-1.0,"c":-0.9,"b":-0.3,"g":0.4,"r":-0.6},
{"t":137,"m":0.6,"c":0.4,"b":0.9,"g":-0.3,"r":0.9},
{"t":138,"m":-0.5,"c":-0.6,"b":-1.0,"g":0.7,"r":-0.5},
{"t":139,"m":0.9,"c":1.1,"b":0.4,"g":-0.6,"r":0.4},
{"t":140,"m":-1.3,"c":-0.2,"b":-0.7,"g":0.5,"r":-0.7},
{"t":141,"m":0.5,"c":0.6,"b":1.2,"g":-0.4,"r":0.6},
{"t":142,"m":-0.4,"c":-0.8,"b":-0.6,"g":0.8,"r":-0.3},
{"t":143,"m":1.0,"c":0.3,"b":0.7,"g":-0.7,"r":0.8},
{"t":144,"m":-0.8,"c":-1.0,"b":-1.1,"g":0.3,"r":-0.6},
{"t":145,"m":0.7,"c":0.9,"b":0.3,"g":-0.5,"r":0.5},
{"t":146,"m":-1.1,"c":-0.4,"b":-0.8,"g":0.6,"r":-0.9},
{"t":147,"m":0.3,"c":0.7,"b":1.0,"g":-0.8,"r":0.4},
{"t":148,"m":-0.6,"c":-0.6,"b":-0.4,"g":0.4,"r":-0.4},
{"t":149,"m":1.2,"c":1.0,"b":0.6,"g":-0.3,"r":0.7},
{"t":150,"m":-1.4,"c":-0.5,"b":-1.2,"g":0.9,"r":-0.5},
{"t":151,"m":0.6,"c":0.4,"b":0.5,"g":-0.6,"r":0.3},
{"t":152,"m":-0.9,"c":-0.9,"b":-0.9,"g":0.5,"r":-0.8},
{"t":153,"m":0.8,"c":0.6,"b":1.1,"g":-0.4,"r":0.6},
{"t":154,"m":-1.2,"c":-0.3,"b":-0.5,"g":0.7,"r":-0.4},
{"t":155,"m":0.4,"c":1.1,"b":0.8,"g":-0.7,"r":0.8},
{"t":156,"m":-0.7,"c":-0.7,"b":-1.0,"g":0.4,"r":-0.6},
{"t":157,"m":1.1,"c":0.5,"b":0.4,"g":-0.5,"r":0.4},
{"t":158,"m":-1.5,"c":-1.0,"b":-0.7,"g":0.8,"r":-0.3},
{"t":159,"m":0.5,"c":0.8,"b":0.9,"g":-0.3,"r":0.9},
{"t":160,"m":-1.0,"c":-0.4,"b":-1.3,"g":0.6,"r":-0.7},
{"t":161,"m":0.7,"c":0.6,"b":0.6,"g":-0.8,"r":0.5},
{"t":162,"m":-1.3,"c":-0.8,"b":-0.3,"g":0.3,"r":-0.5},
{"t":163,"m":0.9,"c":0.3,"b":1.0,"g":-0.6,"r":0.7},
{"t":164,"m":-0.6,"c":-1.1,"b":-0.8,"g":0.7,"r":-0.4},
{"t":165,"m":0.4,"c":0.9,"b":0.5,"g":-0.4,"r":0.6},
{"t":166,"m":-1.4,"c":-0.5,"b":-1.1,"g":0.5,"r":-0.8},
{"t":167,"m":1.0,"c":0.7,"b":0.8,"g":-0.7,"r":0.3},
{"t":168,"m":-0.8,"c":-0.9,"b":-0.4,"g":0.4,"r":-0.6},
{"t":169,"m":0.6,"c":0.4,"b":1.2,"g":-0.5,"r":0.8},
{"t":170,"m":-1.6,"c":-0.6,"b":-0.9,"g":0.8,"r":-0.4},
{"t":171,"m":0.8,"c":1.0,"b":0.3,"g":-0.3,"r":0.5},
{"t":172,"m":-1.1,"c":-0.8,"b":-1.0,"g":0.6,"r":-0.7},
{"t":173,"m":0.5,"c":0.5,"b":0.7,"g":-0.8,"r":0.6},
{"t":174,"m":-1.5,"c":-1.0,"b":-0.6,"g":0.4,"r":-0.5},
{"t":175,"m":0.9,"c":0.8,"b":1.1,"g":-0.6,"r":0.9},
{"t":176,"m":-1.2,"c":-0.4,"b":-0.8,"g":0.7,"r":-0.3},
{"t":177,"m":0.4,"c":0.6,"b":0.6,"g":-0.4,"r":0.7},
{"t":178,"m":-1.7,"c":-0.9,"b":-1.2,"g":0.5,"r":-0.6},
{"t":179,"m":0.7,"c":0.3,"b":0.9,"g":-0.7,"r":0.4},
{"t":179.6,"m":1.5,"c":0.8,"b":3.0,"g":1.2,"r":2.0},
{"t":179.8,"m":2.5,"c":1.2,"b":5.0,"g":4.8,"r":6.6},
{"t":180,"m":3.5,"c":-4.0,"b":5.4,"g":5.9,"r":7.2},
{"t":180.2,"m":2.0,"c":0.3,"b":4.3,"g":6.4,"r":6.9},
{"t":180.4,"m":0.8,"c":-1.0,"b":2.5,"g":3.0,"r":5.8},
{"t":181,"m":0.9,"c":-0.3,"b":1.2,"g":0.8,"r":-0.5},
{"t":182,"m":-0.4,"c":0.6,"b":0.5,"g":-0.8,"r":-1.0},
{"t":183,"m":1.1,"c":-0.9,"b":1.5,"g":0.6,"r":-0.7},
{"t":184,"m":0.5,"c":0.8,"b":0.2,"g":-1.1,"r":-1.2},
{"t":185,"m":-0.8,"c":-0.2,"b":1.0,"g":0.4,"r":-0.4},
{"t":186,"m":1.3,"c":0.9,"b":-0.5,"g":-0.9,"r":-1.0},
{"t":187,"m":0.2,"c":-0.7,"b":0.8,"g":0.7,"r":-0.6},
{"t":188,"m":-0.6,"c":0.4,"b":0.3,"g":-1.0,"r":-1.3},
{"t":189,"m":0.9,"c":-1.1,"b":1.3,"g":0.2,"r":-0.5},
{"t":190,"m":-0.3,"c":0.7,"b":-0.4,"g":-0.7,"r":-0.9},
{"t":191,"m":1.5,"c":-0.5,"b":0.9,"g":0.5,"r":-1.1},
{"t":192,"m":0.1,"c":0.2,"b":0.4,"g":-1.2,"r":-0.6},
{"t":193,"m":-0.9,"c":-1.2,"b":1.1,"g":0.3,"r":-1.0},
{"t":194,"m":0.8,"c":0.8,"b":-0.6,"g":-0.8,"r":-0.4},
{"t":195,"m":0.3,"c":-0.6,"b":0.7,"g":0.6,"r":-1.2},
{"t":196,"m":-0.5,"c":0.5,"b":1.4,"g":-0.5,"r":-0.7},
{"t":197,"m":1.0,"c":-0.9,"b":0.2,"g":0.8,"r":-0.3},
{"t":198,"m":-0.7,"c":0.1,"b":-0.8,"g":-1.0,"r":-1.0},
{"t":199,"m":0.6,"c":0.7,"b":1.0,"g":0.4,"r":-0.6},
{"t":200,"m":0.0,"c":-1.0,"b":0.5,"g":-0.7,"r":-1.1},
{"t":201,"m":-1.0,"c":0.3,"b":-0.3,"g":0.5,"r":-0.5},
{"t":202,"m":0.9,"c":-0.6,"b":0.8,"g":-1.1,"r":-1.5},
{"t":203,"m":0.4,"c":0.9,"b":1.2,"g":0.3,"r":-0.8},
{"t":204,"m":-0.6,"c":-0.8,"b":-0.5,"g":-0.6,"r":-1.6},
{"t":205,"m":1.4,"c":0.5,"b":0.6,"g":0.7,"r":-0.4},
{"t":206,"m":-0.2,"c":-1.2,"b":-0.9,"g":-0.9,"r":-1.0},
{"t":207,"m":0.7,"c":0.2,"b":0.4,"g":0.4,"r":-0.6},
{"t":208,"m":-0.9,"c":-0.5,"b":1.0,"g":-1.4,"r":-1.2},
{"t":209,"m":0.5,"c":0.8,"b":-0.4,"g":0.6,"r":-0.3},
{"t":210,"m":-0.4,"c":-1.0,"b":0.7,"g":-0.8,"r":-0.9},
{"t":211,"m":1.2,"c":0.0,"b":-0.7,"g":0.5,"r":-0.5},
{"t":212,"m":0.1,"c":0.6,"b":0.9,"g":-1.0,"r":-1.1},
{"t":213,"m":-0.7,"c":-0.8,"b":0.2,"g":0.3,"r":-0.4},
{"t":214,"m":0.8,"c":1.0,"b":-0.6,"g":-0.6,"r":-1.0},
{"t":215,"m":-0.3,"c":-0.4,"b":0.8,"g":0.7,"r":-0.6},
{"t":216,"m":1.0,"c":-1.1,"b":-0.3,"g":-1.1,"r":-0.9},
{"t":217,"m":-0.8,"c":0.3,"b":1.1,"g":0.4,"r":-0.3},
{"t":218,"m":0.6,"c":-0.6,"b":-0.8,"g":-0.7,"r":-0.8},
{"t":219,"m":1.7,"c":0.7,"b":0.6,"g":0.9,"r":-0.5},
{"t":220,"m":-0.5,"c":-0.9,"b":-0.5,"g":-0.9,"r":-2.0},
{"t":221,"m":0.9,"c":0.1,"b":0.9,"g":0.2,"r":-0.6},
{"t":222,"m":-0.2,"c":0.5,"b":-0.4,"g":-0.6,"r":-1.0},
{"t":223,"m":1.3,"c":-0.7,"b":1.0,"g":0.6,"r":-0.4},
{"t":224,"m":-0.6,"c":0.3,"b":-0.9,"g":-1.2,"r":-0.9},
{"t":225,"m":0.4,"c":-1.2,"b":0.5,"g":0.5,"r":-0.6},
{"t":226,"m":1.1,"c":0.8,"b":-0.2,"g":-0.8,"r":-1.1},
{"t":227,"m":-0.9,"c":-0.5,"b":0.8,"g":0.3,"r":-0.5},
{"t":228,"m":0.7,"c":0.4,"b":-0.7,"g":-0.7,"r":-0.8},
{"t":229,"m":0.2,"c":-1.0,"b":1.1,"g":0.6,"r":-0.4},
{"t":230,"m":-0.4,"c":0.6,"b":-0.4,"g":-1.0,"r":-0.9},
{"t":231,"m":1.0,"c":-0.3,"b":0.6,"g":0.4,"r":-0.6},
{"t":232,"m":-1.1,"c":-1.1,"b":-0.9,"g":-0.6,"r":-1.0},
{"t":233,"m":0.6,"c":0.7,"b":0.7,"g":0.5,"r":-0.3},
{"t":234,"m":-0.3,"c":-0.8,"b":-0.3,"g":-0.9,"r":-0.8},
{"t":235,"m":0.8,"c":0.2,"b":0.9,"g":-1.2,"r":-0.5},
{"t":236,"m":-1.5,"c":-0.6,"b":-0.6,"g":0.3,"r":-1.1},
{"t":237,"m":0.5,"c":0.5,"b":1.0,"g":-0.4,"r":-0.6},
{"t":238,"m":-0.2,"c":-1.0,"b":-0.5,"g":-1.0,"r":-0.9},
{"t":239,"m":0.9,"c":0.0,"b":0.8,"g":0.2,"r":1.0},
{"t":240,"m":-0.5,"c":-0.5,"b":-0.3,"g":-0.6,"r":-0.4}
],
"lim": [
{"v":7.8,"k":"limit"},{"v":-7.8,"k":"limit"},{"v":2.0,"k":"band"},{"v":-2.0,"k":"band"}
],
"ylab": [
{"yv":-5,"lab":"-5"},{"yv":0,"lab":"0"},{"yv":5,"lab":"5"},{"yv":10,"lab":"10"},{"yv":15,"lab":"15"},{"yv":20,"lab":"20"},{"yv":25,"lab":"25"}
]
},
"concat": [
{
"width": 948, "height": 215,
"title": {"text": "Ligand:Tz, Analyte:TCO-OH in 100% FBS", "anchor": "start", "frame": "group", "fontSize": 31, "fontWeight": "bold", "font": "Liberation Sans", "color": "black", "dx": 12, "dy": 33, "offset": 16},
"layer": [
{"data": {"name": "sg"}, "mark": {"type": "line", "color": "#FF0000", "strokeWidth": 1},
 "encoding": {
  "x": {"field": "t", "type": "quantitative", "scale": {"domain": [-20, 240], "nice": false, "zero": false},
   "axis": {"title": "Time", "titlePadding": 17, "labelOverlap": false, "values": [-20,-10,0,10,20,30,40,50,60,70,80,90,100,110,120,130,140,150,160,170,180,190,200,210,220,230,240], "labelExpr": "datum.value % 20 === 0 ? toString(datum.value) : ''", "tickSize": {"condition": {"test": "datum.value % 20 === 0", "value": 7}, "value": 4}}},
  "y": {"field": "r", "type": "quantitative", "title": "Response", "scale": {"domain": [-5, 25], "nice": false, "zero": false},
   "axis": {"titlePadding": 35, "labels": false, "values": [-5,-2.5,0,2.5,5,7.5,10,12.5,15,17.5,20,22.5,25], "tickSize": {"condition": {"test": "datum.value % 5 === 0", "value": 7}, "value": 4}}}}},
{"data": {"name": "sg"}, "mark": {"type": "line", "color": "#1E6400", "strokeWidth": 1}, "encoding": {"x": {"field": "t", "type": "quantitative"}, "y": {"field": "g", "type": "quantitative", "title": "Response"}}},
{"data": {"name": "sg"}, "mark": {"type": "line", "color": "#0000FF", "strokeWidth": 1}, "encoding": {"x": {"field": "t", "type": "quantitative"}, "y": {"field": "b", "type": "quantitative", "title": "Response"}}},
{"data": {"name": "sg"}, "mark": {"type": "line", "color": "#FF00FF", "strokeWidth": 1}, "encoding": {"x": {"field": "t", "type": "quantitative"}, "y": {"field": "m", "type": "quantitative", "title": "Response"}}},
{"data": {"name": "sg"}, "mark": {"type": "line", "color": "#2EC8C8", "strokeWidth": 1}, "encoding": {"x": {"field": "t", "type": "quantitative"}, "y": {"field": "c", "type": "quantitative", "title": "Response"}}},
{"data": {"name": "fit"}, "transform": [{"fold": ["m", "c", "b", "g", "r"], "as": ["s", "v"]}],
 "mark": {"type": "line", "color": "black", "strokeWidth": 1.6}, "encoding": {"x": {"field": "t", "type": "quantitative"}, "y": {"field": "v", "type": "quantitative", "title": "Response"}, "detail": {"field": "s"}}},
{"data": {"name": "ylab"}, "mark": {"type": "text", "align": "right", "baseline": "middle", "dx": -11, "fontSize": 16, "font": "Liberation Sans", "color": "black"},
 "encoding": {"x": {"datum": -20}, "y": {"field": "yv", "type": "quantitative", "title": "Response"}, "text": {"field": "lab"}}},
{"data": {"values": [{"u": "RU"}]}, "mark": {"type": "text", "dx": -33, "dy": -29, "fontSize": 14, "font": "Liberation Sans", "color": "black"},
 "encoding": {"x": {"datum": -20}, "y": {"datum": 25}, "text": {"field": "u"}}}
]
},
{
"width": 947, "height": 182,
"layer": [
{"data": {"name": "lim"}, "mark": {"type": "rule", "strokeWidth": 1.5},
 "encoding": {"y": {"field": "v", "type": "quantitative", "title": "Response", "scale": {"domain": [-10, 11.6], "nice": false, "zero": false},
  "axis": {"titlePadding": 11, "labelOverlap": false, "values": [-10, -5, 0, 5, 10], "labelExpr": "toString(datum.value)", "tickSize": 7}},
  "color": {"field": "k", "type": "nominal", "scale": {"domain": ["limit", "band"], "range": ["#FF0000", "#2E7D00"]}, "legend": null}}},
{"data": {"name": "res"}, "mark": {"type": "point", "shape": "diamond", "size": 24, "filled": false, "strokeWidth": 1.2, "color": "#FF0000"},
 "encoding": {
  "x": {"field": "t", "type": "quantitative", "scale": {"domain": [-20, 240], "nice": false, "zero": false, "range": [8, 946]},
   "axis": {"title": "Time", "titlePadding": 20, "labelOverlap": false, "values": [-20,-10,0,10,20,30,40,50,60,70,80,90,100,110,120,130,140,150,160,170,180,190,200,210,220,230,240], "labelExpr": "datum.value % 20 === 0 ? toString(datum.value) : ''", "tickSize": {"condition": {"test": "datum.value % 20 === 0", "value": 7}, "value": 4}}},
  "y": {"field": "r", "type": "quantitative", "title": "Response"}}},
{"data": {"name": "res"}, "mark": {"type": "point", "shape": "diamond", "size": 24, "filled": false, "strokeWidth": 1.2, "color": "#1E6400"}, "encoding": {"x": {"field": "t", "type": "quantitative"}, "y": {"field": "g", "type": "quantitative", "title": "Response"}}},
{"data": {"name": "res"}, "mark": {"type": "point", "shape": "diamond", "size": 24, "filled": false, "strokeWidth": 1.2, "color": "#0000FF"}, "encoding": {"x": {"field": "t", "type": "quantitative"}, "y": {"field": "b", "type": "quantitative", "title": "Response"}}},
{"data": {"name": "res"}, "mark": {"type": "point", "shape": "diamond", "size": 24, "filled": false, "strokeWidth": 1.2, "color": "#FF00FF"}, "encoding": {"x": {"field": "t", "type": "quantitative"}, "y": {"field": "m", "type": "quantitative", "title": "Response"}}},
{"data": {"name": "res"}, "mark": {"type": "point", "shape": "diamond", "size": 44, "filled": false, "strokeWidth": 2.2, "color": "#2EC8C8"}, "encoding": {"x": {"field": "t", "type": "quantitative"}, "y": {"field": "c", "type": "quantitative", "title": "Response"}}},
{"data": {"values": [{"v": 0}]}, "mark": {"type": "rule", "strokeWidth": 1, "color": "#E04848"}, "encoding": {"y": {"field": "v", "type": "quantitative", "title": "Response"}}}
]
}
]
}
